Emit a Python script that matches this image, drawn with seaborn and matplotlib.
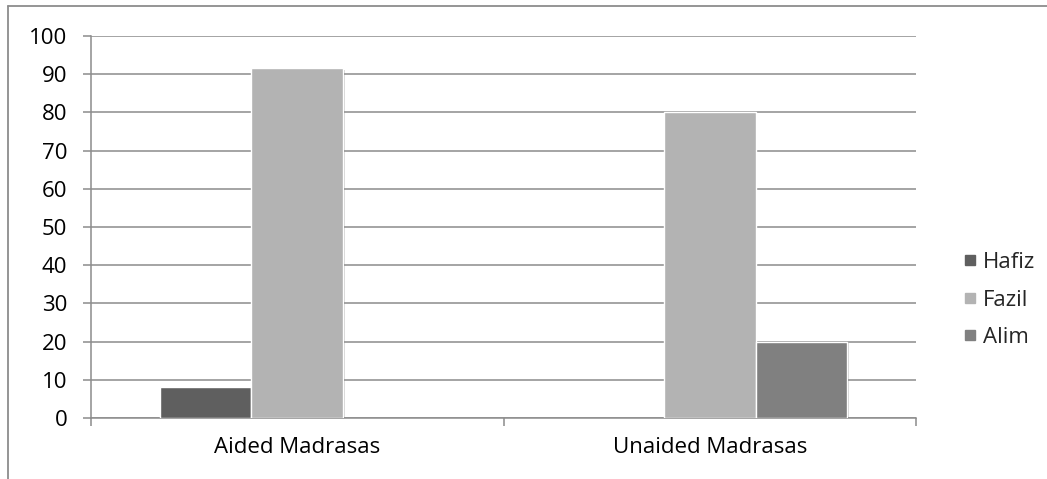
import matplotlib
matplotlib.use("Agg")
import matplotlib.pyplot as plt
import matplotlib.patheffects as pe
from matplotlib.lines import Line2D
import seaborn as sns
import pandas as pd

categories = ["Aided Madrasas", "Unaided Madrasas"]
series = ["Hafiz", "Fazil", "Alim"]
hafiz = [8, 0]
fazil = [91.5, 80]
alim = [0, 20]
colors = ["#5f5f5f", "#b3b3b3", "#808080"]
yticks = [0, 10, 20, 30, 40, 50, 60, 70, 80, 90, 100]

rows = []
for name, vals in zip(series, [hafiz, fazil, alim]):
    for cat, v in zip(categories, vals):
        rows.append({"category": cat, "series": name, "value": v})
df = pd.DataFrame(rows)

sns.set_theme(style="white")
plt.rcParams["font.family"] = ["Open Sans", "DejaVu Sans"]

fs = 16
grid_c = "#8c8c8c"
fig = plt.figure(figsize=(10.47, 4.79), dpi=100)
ax = fig.add_axes([91 / 1047, 1 - 418 / 479, 825 / 1047, 382 / 479])

sns.barplot(data=df, x="category", y="value", hue="series", order=categories,
            hue_order=series, palette=colors, width=2 / 3, ax=ax,
            edgecolor="white", linewidth=1.0, legend=False, zorder=3)

shadow = [pe.SimplePatchShadow(offset=(1.2, -1.2), shadow_rgbFace="#000000", alpha=0.18),
          pe.Normal()]
for p in ax.patches:
    if p.get_height() == 0:
        p.set_visible(False)
    p.set_path_effects(shadow)

ax.set_xlim(-0.5, 1.5)
ax.set_ylim(0, 100)
ax.set_yticks(yticks)
ax.set_yticklabels([str(t) for t in yticks])
ax.set_xlabel("")
ax.set_ylabel("")

ax.yaxis.grid(True, color=grid_c, linewidth=1.1, zorder=0)
ax.set_axisbelow(True)
for side in ["top", "right"]:
    ax.spines[side].set_visible(False)
for side in ["left", "bottom"]:
    ax.spines[side].set_color(grid_c)
    ax.spines[side].set_linewidth(1.1)

ax.tick_params(axis="y", which="major", direction="out", length=6, width=1.1,
               color=grid_c, pad=11, labelsize=fs, labelcolor="#000000", left=True)
ax.tick_params(axis="x", which="major", length=0, pad=14, labelsize=fs,
               labelcolor="#000000", bottom=True)
ax.set_xticks([-0.5, 0.5, 1.5], minor=True)
ax.tick_params(axis="x", which="minor", direction="out", length=5.5, width=1.1,
               color=grid_c, bottom=True)

handles = [Line2D([0], [0], marker="s", linestyle="none", markersize=7.5,
                  markerfacecolor=c, markeredgecolor=c) for c in colors]
fig.legend(handles, series, loc="center left",
           bbox_to_anchor=(950 / 1047, 1 - 300 / 479), frameon=False,
           fontsize=fs, handletextpad=0.1, labelspacing=0.75,
           handlelength=1.0, borderaxespad=0)

# outer chart frame (top and left edges)
fig.add_artist(Line2D([8 / 1047, 1.0], [1 - 6 / 479, 1 - 6 / 479],
                      transform=fig.transFigure, color=grid_c, linewidth=1.3))
fig.add_artist(Line2D([8 / 1047, 8 / 1047], [0.0, 1 - 6 / 479],
                      transform=fig.transFigure, color=grid_c, linewidth=1.3))

fig.savefig("out.png", dpi=100)
